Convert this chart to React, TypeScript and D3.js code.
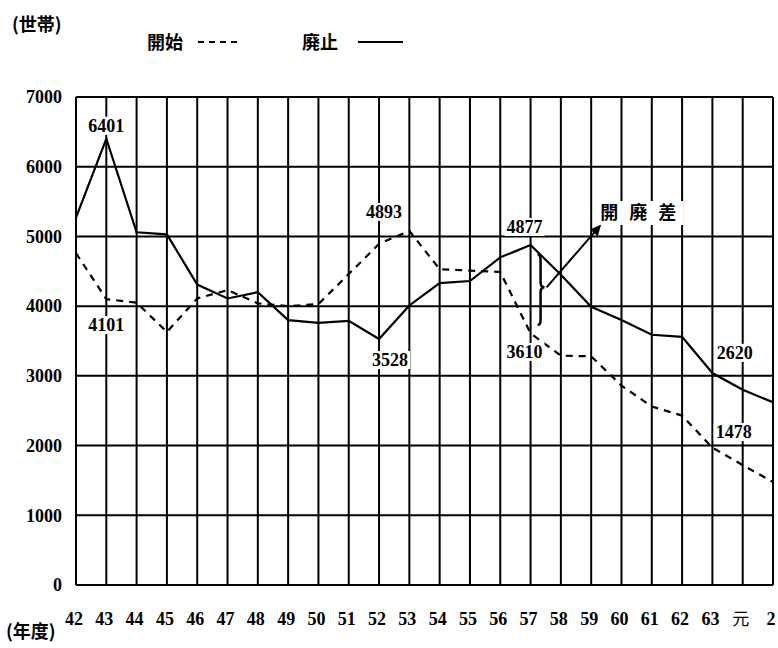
import React from "react";
import * as d3 from "d3";

const categories = ["42","43","44","45","46","47","48","49","50","51","52","53","54","55","56","57","58","59","60","61","62","63","元","2"];
const haishi = [5270,6401,5060,5030,4310,4110,4200,3800,3760,3790,3528,4010,4330,4360,4700,4877,4450,3990,3800,3590,3560,3040,2800,2620];
const kaishi = [4760,4101,4050,3630,4110,4230,4040,4000,4030,4460,4893,5080,4530,4510,4490,3610,3290,3280,2860,2560,2430,1970,1720,1478];
const yTicks = [0,1000,2000,3000,4000,5000,6000,7000];
const valueLabels = [
  { i: 1, v: 6401, dy: -13 },
  { i: 1, v: 4101, dy: 26 },
  { i: 10, v: 4893, dy: -32, dx: 5 },
  { i: 10, v: 3528, dy: 21, dx: 11 },
  { i: 15, v: 4877, dy: -18, dx: -6 },
  { i: 15, v: 3610, dy: -10, dx: -6, ref: 3200 },
  { i: 22, v: 2620, dy: 0, dx: -8, ref: 3330 },
  { i: 22, v: 1478, dy: 0, dx: -9, ref: 2195 },
];

const W = 778, H = 648;
const left = 76, right = 773, top = 97, bottom = 585;
const cjkFont = "'Noto Sans CJK JP', 'Noto Sans CJK SC', sans-serif";
const numStyle = { fontFamily: "'Liberation Serif', 'DejaVu Serif', serif", fontSize: "18px", fontWeight: 700 };

export default function App() {
  const x = d3.scalePoint<string>().domain(categories).range([left, right]);
  const y = d3.scaleLinear().domain([0, 7000]).range([bottom, top]);
  const line = d3.line<number>().x((_, i) => x(categories[i])!).y(d => y(d));

  const x57 = x("57")!, x59 = x("59")!;
  const bx = x57 + 10;
  const bTop = y(4740), bMid = y(4270), bBot = y(3730);
  const ax1 = bx + 6, ay1 = bMid, ax2 = x59 + 10, ay2 = y(5170);
  const ang = Math.atan2(ay2 - ay1, ax2 - ax1);
  const ah = 11, aw = 5;
  const p1 = [ax2 - ah * Math.cos(ang) + aw * Math.sin(ang), ay2 - ah * Math.sin(ang) - aw * Math.cos(ang)];
  const p2 = [ax2 - ah * Math.cos(ang) - aw * Math.sin(ang), ay2 - ah * Math.sin(ang) + aw * Math.cos(ang)];

  return (
    <div style={{ position: "absolute", left: 0, top: 0 }}>
      <svg width={W} height={H} style={{ display: "block", background: "#fff" }}>
        {yTicks.map(t => (
          <line key={"h" + t} x1={left} x2={right} y1={y(t)} y2={y(t)} stroke="#000" strokeWidth={2} />
        ))}
        {categories.map(c => (
          <line key={"v" + c} x1={x(c)} x2={x(c)} y1={top} y2={bottom} stroke="#000" strokeWidth={2} />
        ))}
        {yTicks.map(t => (
          <text key={"yl" + t} x={62} y={y(t)} dy="0.35em" textAnchor="end" style={numStyle}>{t}</text>
        ))}
        {categories.map(c => (
          c === "元"
            ? <text key={"xl" + c} x={x(c)! - 2} y={625} textAnchor="middle" style={{ fontFamily: cjkFont, fontSize: "17px" }}>{c}</text>
            : <text key={"xl" + c} x={x(c)! - 2} y={625} textAnchor="middle" style={numStyle}>{c}</text>
        ))}
        <path d={line(kaishi)!} fill="none" stroke="#000" strokeWidth={2.2} strokeDasharray="7,6" />
        <path d={line(haishi)!} fill="none" stroke="#000" strokeWidth={2.2} />
        {valueLabels.map((l, k) => {
          const cx = x(categories[l.i])! + (l.dx || 0);
          const cy = y(l.ref ?? l.v) + l.dy;
          return (
            <g key={"vl" + k}>
              <rect x={cx - 20} y={cy - 9} width={40} height={18} fill="#fff" />
              <text x={cx} y={cy} dy="0.35em" textAnchor="middle" style={numStyle}>{l.v}</text>
            </g>
          );
        })}
        <path d={`M ${bx - 3} ${bTop} Q ${bx} ${bTop} ${bx} ${bTop + 5} L ${bx} ${bMid - 5} Q ${bx} ${bMid} ${bx + 4} ${bMid} Q ${bx} ${bMid} ${bx} ${bMid + 5} L ${bx} ${bBot - 5} Q ${bx} ${bBot} ${bx - 3} ${bBot}`}
          fill="none" stroke="#000" strokeWidth={2.5} />
        <line x1={ax1} y1={ay1} x2={ax2 - 6 * Math.cos(ang)} y2={ay2 - 6 * Math.sin(ang)} stroke="#000" strokeWidth={2} />
        <polygon points={`${ax2},${ay2} ${p1[0]},${p1[1]} ${p2[0]},${p2[1]}`} fill="#000" />
        <rect x={x59 + 8} y={201} width={84} height={24} fill="#fff" />
        <text x={x59 + 9} y={213} dy="0.35em" fontFamily={cjkFont} fontSize={18} fontWeight="bold" letterSpacing={11}>開廃差</text>
        <text x={12} y={25} dy="0.35em" fontFamily={cjkFont} fontSize={18} fontWeight="bold">(世帯)</text>
        <text x={147} y={43} dy="0.35em" fontFamily={cjkFont} fontSize={18} fontWeight="bold">開始</text>
        <line x1={198} x2={240} y1={42} y2={42} stroke="#000" strokeWidth={2} strokeDasharray="6,5" />
        <text x={302} y={43} dy="0.35em" fontFamily={cjkFont} fontSize={18} fontWeight="bold">廃止</text>
        <line x1={358} x2={403} y1={42} y2={42} stroke="#000" strokeWidth={2} />
        <text x={6} y={632} dy="0.35em" fontFamily={cjkFont} fontSize={18} fontWeight="bold">(年度)</text>
      </svg>
    </div>
  );
}
